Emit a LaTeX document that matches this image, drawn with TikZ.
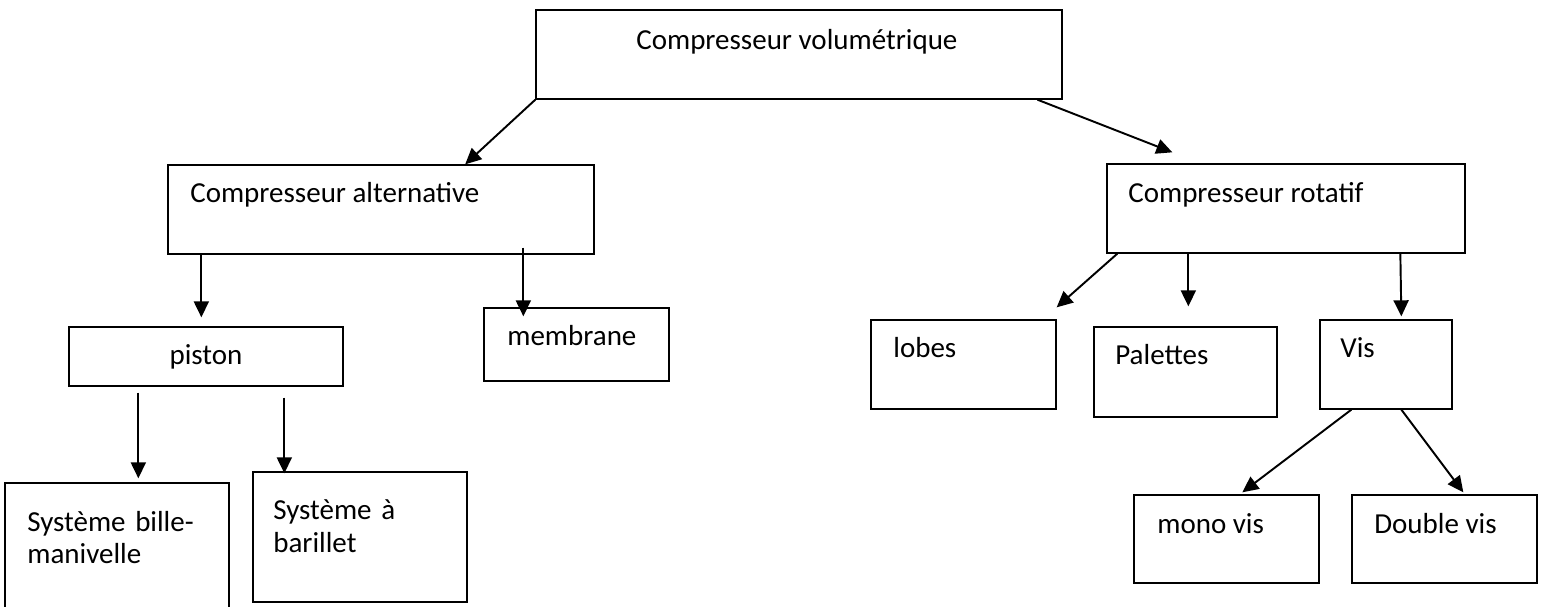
\documentclass[tikz,border=0pt]{standalone}
\usepackage{fontspec}
\setmainfont{Carlito}
\usetikzlibrary{arrows.meta,calc,fit}

\begin{document}
\begin{tikzpicture}
  [x=0.02cm, y=-0.02cm,
   box/.style={draw, line width=0.75pt, inner sep=0pt},
   lbl/.style={anchor=base west, inner sep=0pt, align=left, font=\fontsize{16.5}{18.4}\selectfont},
   arr/.style={line width=1.1pt, -{Triangle[length=0.32cm, width=0.3cm]}}]
  \useasboundingbox (0,0) rectangle (1541,607);

  % niveau 1
  \node[box, fit={(536,10) (1062,99)}] (vol) {};
  \node[lbl] (vol-t) at (636,50) {Compresseur volumétrique};

  % niveau 2
  \node[box, fit={(168,165) (594,254)}] (alt) {};
  \node[lbl] (alt-t) at (190,203) {Compresseur alternative};
  \node[box, fit={(1107,164) (1465,253)}] (rot) {};
  \node[lbl] (rot-t) at (1128,203) {Compresseur rotatif};

  % niveau 3
  \node[box, fit={(69,327) (343,386)}] (piston) {};
  \node[lbl, anchor=base] (piston-t) at (206,365) {piston};
  \node[box, fit={(484,308) (669,381)}] (membr) {};
  \node[lbl] (membr-t) at (507,346) {membrane};
  \node[box, fit={(871,320) (1056,409)}] (lobes) {};
  \node[lbl] (lobes-t) at (893,358) {lobes};
  \node[box, fit={(1094,327) (1277,417)}] (palet) {};
  \node[lbl] (palet-t) at (1115,365) {Palettes};
  \node[box, fit={(1320,320) (1452,409)}] (vis) {};
  \node[lbl] (vis-t) at (1340,358) {Vis};

  % niveau 4
  \node[box, fit={(5,483) (229,630)}] (bille) {};
  \node[lbl, text width=4cm] (bille-t) at (27,531) {Système bille-\\manivelle};
  \node[box, fit={(253,472) (467,602)}] (baril) {};
  \node[lbl, text width=4cm] (baril-t) at (273,520) {Système à\\barillet};
  \node[box, fit={(1134,495) (1319,583)}] (mono) {};
  \node[lbl] (mono-t) at (1157,533) {mono vis};
  \node[box, fit={(1352,495) (1537,583)}] (double) {};
  \node[lbl] (double-t) at (1374,533) {Double vis};

  % fleches
  \draw[arr] (vol.south west) -- ($(alt.north west)!0.697!(alt.north east)$);
  \draw[arr] ($(vol.south west)!0.952!(vol.south east)$) -- ($(rot.north west)+(66,-11)$);
  \draw[arr] ($(alt.south west)+(34,0)$) -- ($(piston.north west)+(133,-9)$);
  \draw[arr] ($(alt.south west)+(356,-7)$) -- ($(membr.north west)+(40,9)$);
  \draw[arr] ($(rot.south west)+(11,0)$) -- ($(lobes.north east)+(0,-12)$);
  \draw[arr] ($(rot.south west)+(82,0)$) -- ($(palet.north west)+(95,-20)$);
  \draw[arr] ($(rot.south west)+(294,0)$) -- ($(vis.north west)+(82,-3)$);
  \draw[arr] ($(piston.south west)+(70,6)$) -- ($(bille.north west)+(134,-4)$);
  \draw[arr] ($(piston.south west)+(216,11)$) -- ($(baril.north west)+(32,2)$);
  \draw[arr] ($(vis.south west)+(32,0)$) -- ($(mono.north west)+(109,-2)$);
  \draw[arr] ($(vis.south west)+(82,0)$) -- ($(double.north west)+(112,-2)$);
\end{tikzpicture}
\end{document}
